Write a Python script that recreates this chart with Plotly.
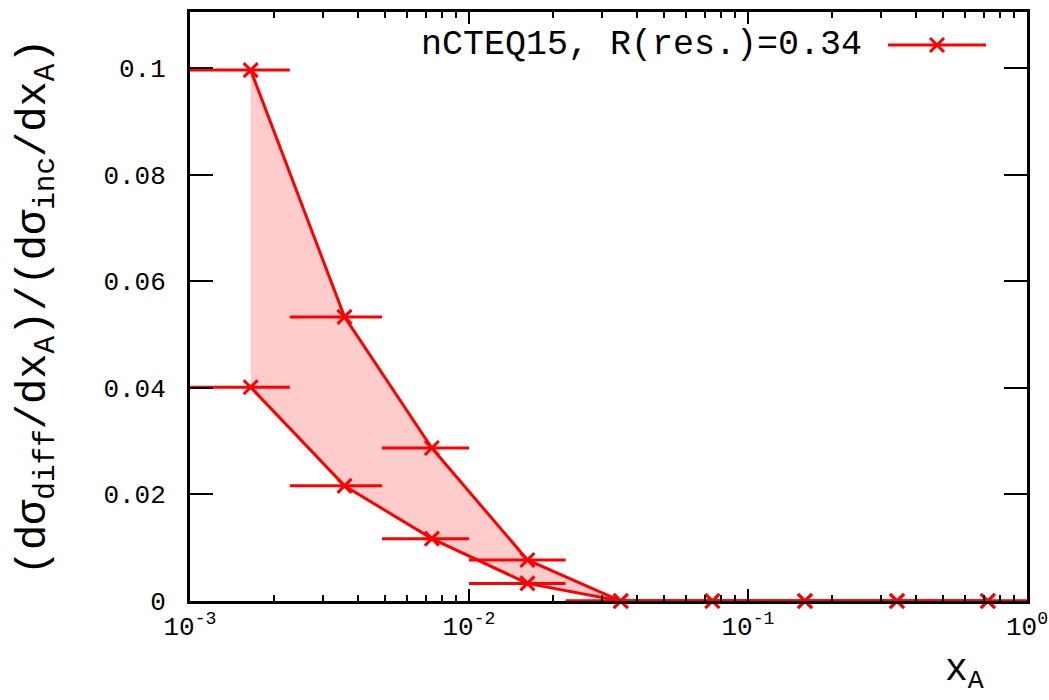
import plotly.graph_objects as go

# ---- data ----
x_centers = [1.65e-3, 3.58e-3, 7.36e-3, 1.62e-2, 3.5e-2, 7.45e-2, 0.160, 0.342, 0.724]
bin_lo = [1.0e-3, 2.28e-3, 4.88e-3, 1.0e-2, 2.22e-2, 4.7e-2, 0.10, 0.22, 0.47]
bin_hi = [2.28e-3, 4.88e-3, 1.0e-2, 2.22e-2, 4.7e-2, 0.10, 0.22, 0.47, 1.0]
upper = [0.0996, 0.0533, 0.0287, 0.0077, 0.0, 0.0, 0.0, 0.0, 0.0]
lower = [0.0401, 0.0216, 0.0117, 0.0033, 0.0, 0.0, 0.0, 0.0, 0.0]
legend_label = "nCTEQ15, R(res.)=0.34"
y_ticks = [0, 0.02, 0.04, 0.06, 0.08, 0.1]
y_ticktext = ["0", "0.02", "0.04", "0.06", "0.08", "0.1"]
x_ticks = [1e-3, 1e-2, 1e-1, 1]
x_ticktext = ["10<sup>-3</sup>", "10<sup>-2</sup>", "10<sup>-1</sup>", "10<sup>0</sup>"]

RED = "#ff0000"
FONT = "Liberation Mono"

err_plus = [h - x for h, x in zip(bin_hi, x_centers)]
err_minus = [x - l for l, x in zip(bin_lo, x_centers)]

fig = go.Figure()

# band fill
fig.add_trace(go.Scatter(x=x_centers, y=lower, mode="lines", line=dict(width=0),
                         showlegend=False, hoverinfo="skip"))
fig.add_trace(go.Scatter(x=x_centers, y=upper, mode="lines", line=dict(width=0),
                         fill="tonexty", fillcolor="rgba(255,0,0,0.2)",
                         showlegend=False, hoverinfo="skip"))

for ys in (lower, upper):
    fig.add_trace(go.Scatter(
        x=x_centers, y=ys, mode="lines+markers",
        line=dict(color=RED, width=3),
        marker=dict(symbol="x-thin", size=14, line=dict(color=RED, width=3)),
        error_x=dict(type="data", symmetric=False, array=err_plus, arrayminus=err_minus,
                     color=RED, thickness=3, width=0),
        cliponaxis=False, showlegend=False))

# legend sample on an overlay axis pair spanning the plot area
fig.add_trace(go.Scatter(x=[0.834, 0.951], y=[0.944, 0.944], mode="lines",
                         line=dict(color=RED, width=3), xaxis="x2", yaxis="y2",
                         showlegend=False, hoverinfo="skip"))
fig.add_trace(go.Scatter(x=[0.8925], y=[0.944], mode="markers",
                         marker=dict(symbol="x-thin", size=14, line=dict(color=RED, width=3)),
                         xaxis="x2", yaxis="y2", showlegend=False, hoverinfo="skip"))

minor_x = [m * 10.0 ** e for e in (-3, -2, -1) for m in range(2, 10)]

fig.update_layout(
    width=1049, height=700,
    margin=dict(l=190, r=22, t=12, b=99, autoexpand=False),
    paper_bgcolor="white", plot_bgcolor="white",
    font=dict(family=FONT, color="black", size=26),
    xaxis=dict(type="log", range=[-3, 0], tickmode="array", tickvals=x_ticks,
               ticktext=x_ticktext, ticks="inside", ticklen=12, tickwidth=2,
               tickcolor="black", showline=True, linewidth=3, linecolor="black",
               mirror="allticks", showgrid=False, zeroline=False, automargin=False,
               tickfont=dict(family=FONT, size=26),
               minor=dict(tickmode="array", tickvals=minor_x, ticks="inside",
                          ticklen=6, tickwidth=2, tickcolor="black", showgrid=False)),
    yaxis=dict(range=[0, 0.1105], tickmode="array", tickvals=y_ticks, ticktext=y_ticktext,
               ticks="inside", ticklen=23, tickwidth=2, tickcolor="black",
               showline=True, linewidth=3, linecolor="black", mirror="allticks",
               showgrid=False, zeroline=False, ticklabelstandoff=16, automargin=False,
               tickfont=dict(family=FONT, size=26)),
    xaxis2=dict(overlaying="x", range=[0, 1], visible=False),
    yaxis2=dict(overlaying="y", range=[0, 1], visible=False),
    annotations=[
        dict(text="(dσ<sub>diff</sub>/dx<sub>A</sub>)/(dσ<sub>inc</sub>/dx<sub>A</sub>)",
             xref="paper", yref="paper", x=-0.183, y=0.5, textangle=-90,
             xanchor="center", yanchor="middle", showarrow=False,
             font=dict(family=FONT, size=42)),
        dict(text="x<sub>A</sub>", xref="paper", yref="paper", x=0.925, y=-0.12,
             xanchor="center", yanchor="middle", showarrow=False,
             font=dict(family=FONT, size=38)),
        dict(text=legend_label, xref="paper", yref="paper", x=0.805, y=0.944,
             xanchor="right", yanchor="middle", showarrow=False,
             font=dict(family=FONT, size=35)),
    ],
)

fig.write_html("out.html")
